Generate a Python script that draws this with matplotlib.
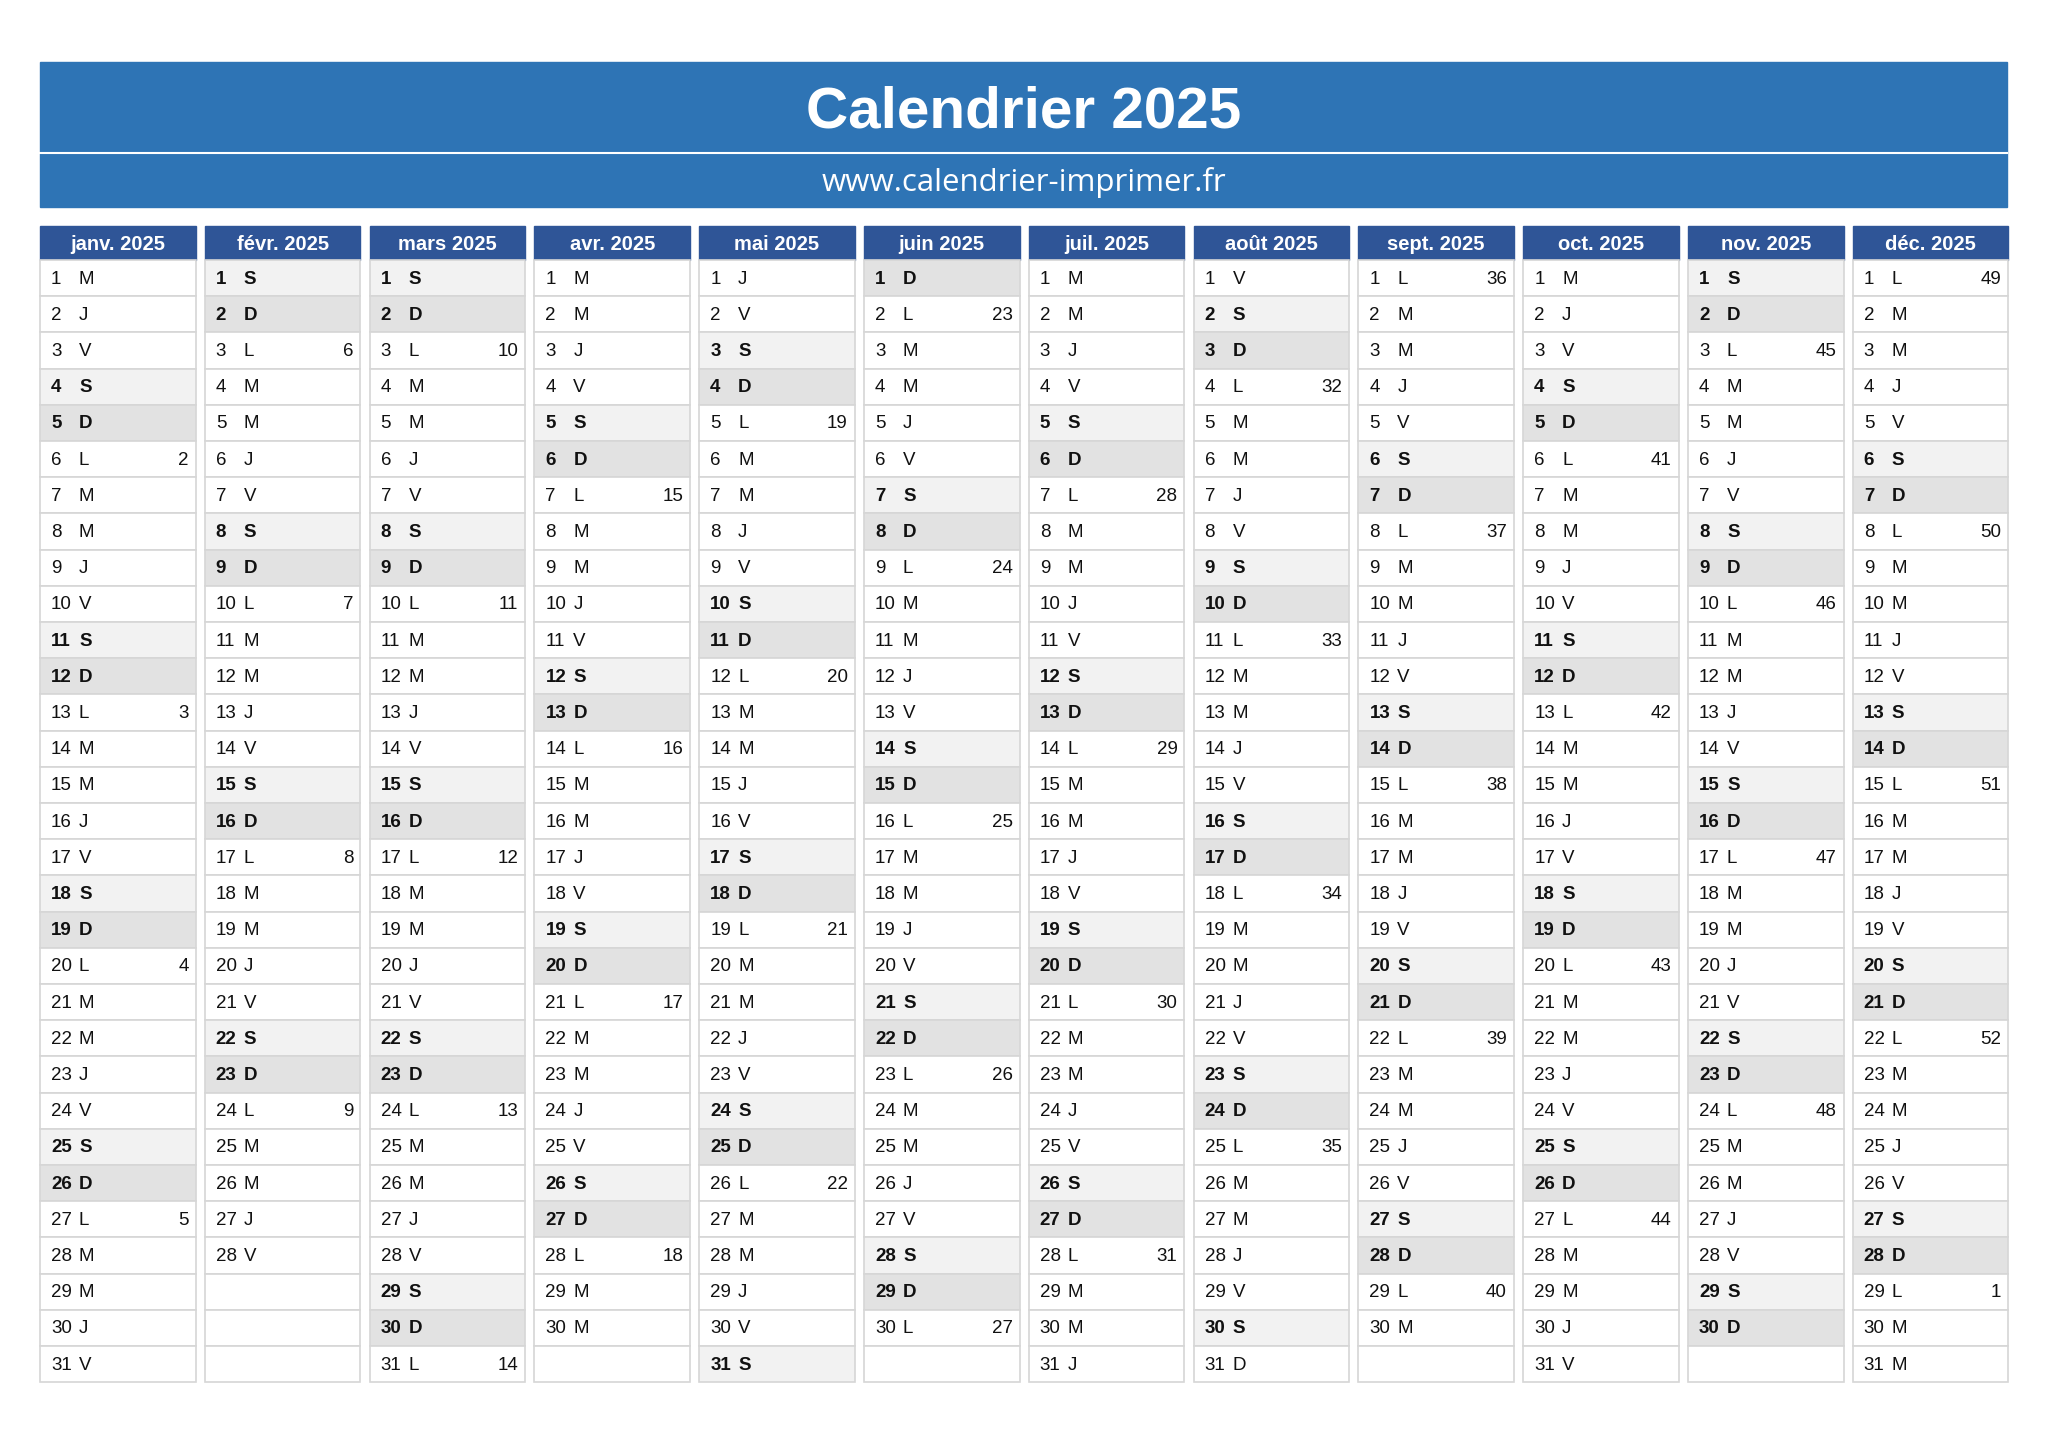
import matplotlib
matplotlib.use("Agg")
import matplotlib.pyplot as plt
from matplotlib.patches import Rectangle
import datetime as dt

YEAR = 2025
months = ["janv. 2025","févr. 2025","mars 2025","avr. 2025","mai 2025","juin 2025",
          "juil. 2025","août 2025","sept. 2025","oct. 2025","nov. 2025","déc. 2025"]
month_days = [31,28,31,30,31,30,31,31,30,31,30,31]
day_letters = ["L","M","M","J","V","S","D"]
title = "Calendrier 2025"
subtitle = "www.calendrier-imprimer.fr"
# quirk in reference: 31 Aug shown as regular day
plain_days = [(8,31)]

W,H = 2048,1448
fig = plt.figure(figsize=(W/100,H/100),dpi=100)
ax = fig.add_axes([0,0,1,1])
ax.set_xlim(0,W); ax.set_ylim(H,0); ax.axis("off")
FONT = "Liberation Sans"

ax.add_patch(Rectangle((40,62),1967,145,color="#2E74B5"))
ax.plot([40,2007],[153,153],color="white",lw=1.5)
ax.text(1024,112,title,ha="center",va="center",color="white",fontsize=42,fontweight="bold",family=FONT)
ax.text(1024,182,subtitle,ha="center",va="center",color="white",fontsize=22.5,family="Open Sans")

x0, pitch, cw = 40, 164.8, 155.6
ytop, hh, rh = 226, 34, 36.2
for m in range(12):
    cx = x0 + m*pitch
    ax.add_patch(Rectangle((cx,ytop),cw,hh,color="#2F5597"))
    ax.text(cx+cw/2,ytop+hh/2+1,months[m],ha="center",va="center",color="white",
            fontsize=14.5,fontweight="bold",family=FONT)
    y0 = ytop+hh
    for d in range(1,32):
        yy = y0+(d-1)*rh
        fc = "white"; bold=False; txt=None; wk=None
        if d <= month_days[m]:
            date = dt.date(YEAR,m+1,d)
            wd = date.weekday()
            txt = day_letters[wd]
            if (m+1,d) not in plain_days:
                if wd==5: fc="#F2F2F2"; bold=True
                elif wd==6: fc="#E2E2E2"; bold=True
            if wd==0: wk = date.isocalendar()[1]
        ax.add_patch(Rectangle((cx,yy),cw,rh,facecolor=fc,edgecolor="#D6D6D6",lw=1.2))
        if txt:
            w = "bold" if bold else "normal"
            ax.text(cx+11,yy+rh/2+1,str(d),ha="left",va="center",fontsize=13.5,fontweight=w,family=FONT,color="#111111")
            ax.text(cx+39,yy+rh/2+1,txt,ha="left",va="center",fontsize=13.5,fontweight=w,family=FONT,color="#111111")
            if wk is not None:
                ax.text(cx+cw-7,yy+rh/2+1,str(wk),ha="right",va="center",fontsize=13.5,family=FONT,color="#111111")
fig.savefig("out.png",dpi=100)
